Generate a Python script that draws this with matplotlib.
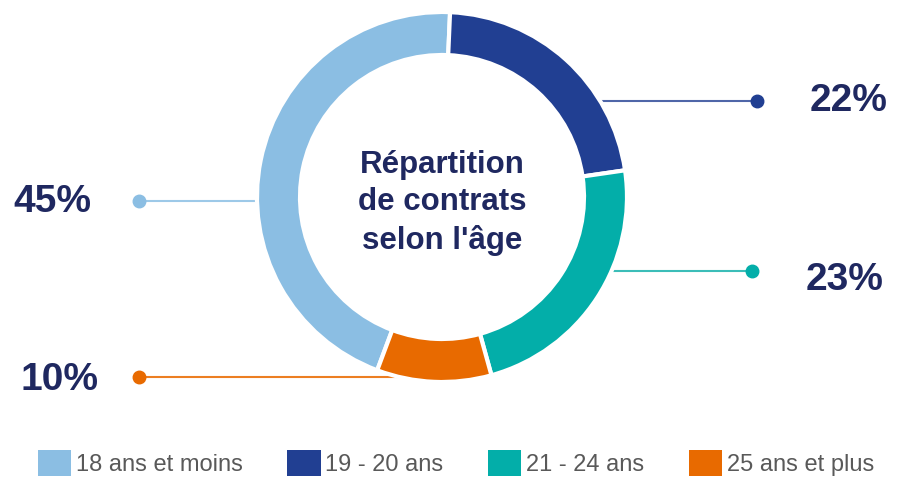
import numpy as np
import matplotlib.pyplot as plt
from matplotlib.patches import Patch

plt.rcParams['font.family'] = ['Liberation Sans', 'DejaVu Sans']

categories = ['18 ans et moins', '19 - 20 ans', '21 - 24 ans', '25 ans et plus']
shares = [45, 22, 23, 10]
colors = ['#8BBEE3', '#213F92', '#03AEA9', '#E86A00']
line_colors = ['#9DC9E8', '#4F66A8', '#3BBDB8', '#EC7E22']

W, H = 897, 478
CX, CY, R, RING = 442, 197, 185, 43
NAVY = '#1F2860'


def py(y):
    # pixel row -> data y
    return H - y


fig = plt.figure(figsize=(W / 100, H / 100), dpi=100)
ax = fig.add_axes([0, 0, 1, 1])

ax.pie(shares, colors=colors, startangle=-110.5, counterclock=False,
       center=(CX, py(CY)), radius=R,
       wedgeprops=dict(width=RING, edgecolor='white', linewidth=3),
       frame=True)
ax.set_xlim(0, W)
ax.set_ylim(0, H)
ax.set_aspect('equal')
ax.axis('off')

# label layout: (dot x, line y, text centre x, text baseline y, side)
layout = [
    (139, 201, 52, 212, -1),
    (757, 101, 849, 111, 1),
    (752, 271, 845, 290, 1),
    (139, 377, 59, 390, -1),
]

for share, col, lcol, (dx, ly, tx, ty, side) in zip(shares, colors, line_colors, layout):
    dy = ly - CY
    edge = CX + side * np.sqrt(R ** 2 - dy ** 2)
    ax.plot([dx, edge], [py(ly), py(ly)], color=lcol, lw=1.5, zorder=0.5,
            solid_capstyle='butt')
    ax.plot(dx, py(ly), 'o', color=col, markersize=9, zorder=3)
    ax.text(tx, py(ty), f'{share}%', ha='center', va='baseline',
            fontsize=28, fontweight='bold', color=NAVY)

ax.text(CX, py(203), "Répartition\nde contrats\nselon l'âge", ha='center',
        va='center', fontsize=22.5, fontweight='bold', color=NAVY,
        linespacing=1.3)

handles = [Patch(facecolor=c, edgecolor='none') for c in colors]
leg = fig.legend(handles, categories, ncol=4, loc='center',
                 bbox_to_anchor=(456 / W, 1 - 463 / H), frameon=False,
                 fontsize=17, handlelength=1.4, handleheight=1.3,
                 handletextpad=0.2, columnspacing=1.9, borderpad=0,
                 borderaxespad=0)
for t in leg.get_texts():
    t.set_color('#595959')

fig.savefig('out.png', dpi=100)
